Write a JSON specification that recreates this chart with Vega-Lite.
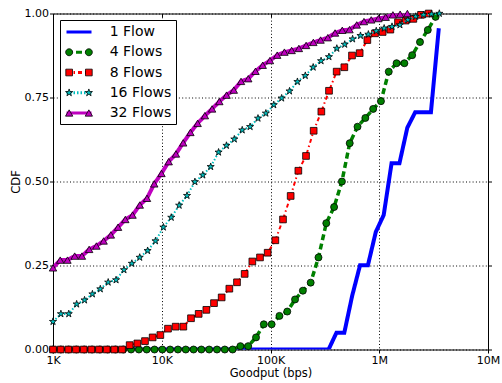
{
  "$schema": "https://vega.github.io/schema/vega-lite/v6.json",
  "width": 435,
  "height": 336,
  "autosize": "none",
  "padding": {"left": 53, "top": 13.5, "right": 14, "bottom": 33.5},
  "background": "white",
  "config": {
    "view": {"stroke": "black", "strokeWidth": 1},
    "font": "DejaVu Sans",
    "axis": {"domain": false, "labelFont": "DejaVu Sans", "titleFont": "DejaVu Sans", "labelColor": "black", "titleColor": "black", "tickColor": "black", "titleFontWeight": "normal"}
  },
  "data": {"values": [
    {"series":"1 Flow","x":1000,"y":0},{"series":"1 Flow","x":342000,"y":0},{"series":"1 Flow","x":404100,"y":0.05},{"series":"1 Flow","x":477200,"y":0.05},{"series":"1 Flow","x":563800,"y":0.16},{"series":"1 Flow","x":666200,"y":0.251},{"series":"1 Flow","x":787000,"y":0.251},{"series":"1 Flow","x":929900,"y":0.35},{"series":"1 Flow","x":1098500,"y":0.40},{"series":"1 Flow","x":1297800,"y":0.554},{"series":"1 Flow","x":1533000,"y":0.554},{"series":"1 Flow","x":1811300,"y":0.66},{"series":"1 Flow","x":2139800,"y":0.706},{"series":"1 Flow","x":2528100,"y":0.706},{"series":"1 Flow","x":2986600,"y":0.706},{"series":"1 Flow","x":3528600,"y":0.956},

    {"series":"4 Flows","x":1000,"y":0},{"series":"4 Flows","x":1180,"y":0},{"series":"4 Flows","x":1392,"y":0},{"series":"4 Flows","x":1642,"y":0},{"series":"4 Flows","x":1937,"y":0},{"series":"4 Flows","x":2286,"y":0},{"series":"4 Flows","x":2697,"y":0},{"series":"4 Flows","x":3181,"y":0},{"series":"4 Flows","x":3753,"y":0},{"series":"4 Flows","x":4428,"y":0},{"series":"4 Flows","x":5224,"y":0},{"series":"4 Flows","x":6163,"y":0},{"series":"4 Flows","x":7271,"y":0},{"series":"4 Flows","x":8579,"y":0},{"series":"4 Flows","x":10121,"y":0},{"series":"4 Flows","x":11940,"y":0},{"series":"4 Flows","x":14087,"y":0},{"series":"4 Flows","x":16620,"y":0},{"series":"4 Flows","x":19607,"y":0},{"series":"4 Flows","x":23132,"y":0},{"series":"4 Flows","x":27291,"y":0},{"series":"4 Flows","x":32197,"y":0},{"series":"4 Flows","x":37986,"y":0},{"series":"4 Flows","x":44815,"y":0},{"series":"4 Flows","x":52872,"y":0.010},{"series":"4 Flows","x":62377,"y":0.010},{"series":"4 Flows","x":73591,"y":0.036},{"series":"4 Flows","x":86821,"y":0.075},{"series":"4 Flows","x":102430,"y":0.075},{"series":"4 Flows","x":120845,"y":0.100},{"series":"4 Flows","x":142570,"y":0.113},{"series":"4 Flows","x":168201,"y":0.149},{"series":"4 Flows","x":198440,"y":0.175},{"series":"4 Flows","x":234116,"y":0.199},{"series":"4 Flows","x":276206,"y":0.274},{"series":"4 Flows","x":325862,"y":0.376},{"series":"4 Flows","x":384445,"y":0.424},{"series":"4 Flows","x":453560,"y":0.500},{"series":"4 Flows","x":535101,"y":0.614},{"series":"4 Flows","x":631300,"y":0.663},{"series":"4 Flows","x":744795,"y":0.689},{"series":"4 Flows","x":878696,"y":0.716},{"series":"4 Flows","x":1036670,"y":0.739},{"series":"4 Flows","x":1223040,"y":0.827},{"series":"4 Flows","x":1442930,"y":0.852},{"series":"4 Flows","x":1702340,"y":0.852},{"series":"4 Flows","x":2008390,"y":0.876},{"series":"4 Flows","x":2369460,"y":0.915},{"series":"4 Flows","x":2795440,"y":0.951},{"series":"4 Flows","x":3297990,"y":0.990},

    {"series":"8 Flows","x":1000,"y":0},{"series":"8 Flows","x":1176,"y":0},{"series":"8 Flows","x":1384,"y":0},{"series":"8 Flows","x":1627,"y":0},{"series":"8 Flows","x":1914,"y":0},{"series":"8 Flows","x":2252,"y":0},{"series":"8 Flows","x":2648,"y":0},{"series":"8 Flows","x":3115,"y":0},{"series":"8 Flows","x":3664,"y":0},{"series":"8 Flows","x":4310,"y":0},{"series":"8 Flows","x":5070,"y":0.013},{"series":"8 Flows","x":5963,"y":0.018},{"series":"8 Flows","x":7014,"y":0.025},{"series":"8 Flows","x":8251,"y":0.036},{"series":"8 Flows","x":9705,"y":0.043},{"series":"8 Flows","x":11415,"y":0.062},{"series":"8 Flows","x":13427,"y":0.068},{"series":"8 Flows","x":15794,"y":0.068},{"series":"8 Flows","x":18578,"y":0.093},{"series":"8 Flows","x":21852,"y":0.106},{"series":"8 Flows","x":25703,"y":0.118},{"series":"8 Flows","x":30234,"y":0.138},{"series":"8 Flows","x":35562,"y":0.155},{"series":"8 Flows","x":41830,"y":0.181},{"series":"8 Flows","x":49203,"y":0.200},{"series":"8 Flows","x":57875,"y":0.225},{"series":"8 Flows","x":68075,"y":0.262},{"series":"8 Flows","x":80074,"y":0.274},{"series":"8 Flows","x":94187,"y":0.288},{"series":"8 Flows","x":110787,"y":0.325},{"series":"8 Flows","x":130313,"y":0.387},{"series":"8 Flows","x":153281,"y":0.457},{"series":"8 Flows","x":180297,"y":0.532},{"series":"8 Flows","x":212074,"y":0.576},{"series":"8 Flows","x":249452,"y":0.651},{"series":"8 Flows","x":293418,"y":0.708},{"series":"8 Flows","x":345133,"y":0.770},{"series":"8 Flows","x":405963,"y":0.827},{"series":"8 Flows","x":477514,"y":0.840},{"series":"8 Flows","x":561676,"y":0.875},{"series":"8 Flows","x":660671,"y":0.882},{"series":"8 Flows","x":777114,"y":0.921},{"series":"8 Flows","x":914086,"y":0.941},{"series":"8 Flows","x":1075190,"y":0.945},{"series":"8 Flows","x":1264690,"y":0.952},{"series":"8 Flows","x":1487590,"y":0.974},{"series":"8 Flows","x":1749780,"y":0.979},{"series":"8 Flows","x":2058180,"y":0.984},{"series":"8 Flows","x":2420930,"y":0.996},{"series":"8 Flows","x":2847620,"y":1.0},

    {"series":"16 Flows","x":1000,"y":0.083},{"series":"16 Flows","x":1182,"y":0.106},{"series":"16 Flows","x":1396,"y":0.106},{"series":"16 Flows","x":1650,"y":0.135},{"series":"16 Flows","x":1950,"y":0.147},{"series":"16 Flows","x":2304,"y":0.165},{"series":"16 Flows","x":2723,"y":0.180},{"series":"16 Flows","x":3217,"y":0.200},{"series":"16 Flows","x":3802,"y":0.207},{"series":"16 Flows","x":4493,"y":0.237},{"series":"16 Flows","x":5309,"y":0.256},{"series":"16 Flows","x":6273,"y":0.274},{"series":"16 Flows","x":7413,"y":0.294},{"series":"16 Flows","x":8760,"y":0.323},{"series":"16 Flows","x":10351,"y":0.364},{"series":"16 Flows","x":12232,"y":0.393},{"series":"16 Flows","x":14454,"y":0.429},{"series":"16 Flows","x":17080,"y":0.458},{"series":"16 Flows","x":20184,"y":0.499},{"series":"16 Flows","x":23851,"y":0.519},{"series":"16 Flows","x":28184,"y":0.544},{"series":"16 Flows","x":33304,"y":0.587},{"series":"16 Flows","x":39355,"y":0.607},{"series":"16 Flows","x":46505,"y":0.626},{"series":"16 Flows","x":54954,"y":0.653},{"series":"16 Flows","x":64938,"y":0.663},{"series":"16 Flows","x":76736,"y":0.688},{"series":"16 Flows","x":90677,"y":0.703},{"series":"16 Flows","x":107151,"y":0.728},{"series":"16 Flows","x":126618,"y":0.748},{"series":"16 Flows","x":149622,"y":0.769},{"series":"16 Flows","x":176805,"y":0.797},{"series":"16 Flows","x":208927,"y":0.815},{"series":"16 Flows","x":246885,"y":0.840},{"series":"16 Flows","x":291739,"y":0.859},{"series":"16 Flows","x":344742,"y":0.871},{"series":"16 Flows","x":407375,"y":0.896},{"series":"16 Flows","x":481387,"y":0.908},{"series":"16 Flows","x":568845,"y":0.924},{"series":"16 Flows","x":672193,"y":0.934},{"series":"16 Flows","x":794318,"y":0.938},{"series":"16 Flows","x":938630,"y":0.948},{"series":"16 Flows","x":1109160,"y":0.956},{"series":"16 Flows","x":1310670,"y":0.961},{"series":"16 Flows","x":1548800,"y":0.966},{"series":"16 Flows","x":1830190,"y":0.981},{"series":"16 Flows","x":2162700,"y":0.991},{"series":"16 Flows","x":2555620,"y":0.996},{"series":"16 Flows","x":3019920,"y":0.998},{"series":"16 Flows","x":3568580,"y":1.0},

    {"series":"32 Flows","x":1000,"y":0.243},{"series":"32 Flows","x":1165,"y":0.266},{"series":"32 Flows","x":1358,"y":0.266},{"series":"32 Flows","x":1583,"y":0.278},{"series":"32 Flows","x":1845,"y":0.278},{"series":"32 Flows","x":2150,"y":0.298},{"series":"32 Flows","x":2506,"y":0.308},{"series":"32 Flows","x":2921,"y":0.323},{"series":"32 Flows","x":3404,"y":0.341},{"series":"32 Flows","x":3967,"y":0.364},{"series":"32 Flows","x":4624,"y":0.387},{"series":"32 Flows","x":5389,"y":0.400},{"series":"32 Flows","x":6281,"y":0.430},{"series":"32 Flows","x":7320,"y":0.450},{"series":"32 Flows","x":8531,"y":0.493},{"series":"32 Flows","x":9943,"y":0.524},{"series":"32 Flows","x":11588,"y":0.559},{"series":"32 Flows","x":13506,"y":0.582},{"series":"32 Flows","x":15741,"y":0.615},{"series":"32 Flows","x":18345,"y":0.646},{"series":"32 Flows","x":21381,"y":0.673},{"series":"32 Flows","x":24919,"y":0.696},{"series":"32 Flows","x":29042,"y":0.716},{"series":"32 Flows","x":33848,"y":0.738},{"series":"32 Flows","x":39449,"y":0.757},{"series":"32 Flows","x":45977,"y":0.772},{"series":"32 Flows","x":53585,"y":0.798},{"series":"32 Flows","x":62452,"y":0.806},{"series":"32 Flows","x":72786,"y":0.828},{"series":"32 Flows","x":84830,"y":0.846},{"series":"32 Flows","x":98867,"y":0.860},{"series":"32 Flows","x":115230,"y":0.876},{"series":"32 Flows","x":134290,"y":0.885},{"series":"32 Flows","x":156510,"y":0.890},{"series":"32 Flows","x":182410,"y":0.896},{"series":"32 Flows","x":212600,"y":0.905},{"series":"32 Flows","x":247780,"y":0.914},{"series":"32 Flows","x":288780,"y":0.921},{"series":"32 Flows","x":336560,"y":0.928},{"series":"32 Flows","x":392250,"y":0.942},{"series":"32 Flows","x":457160,"y":0.950},{"series":"32 Flows","x":532810,"y":0.952},{"series":"32 Flows","x":620970,"y":0.966},{"series":"32 Flows","x":723720,"y":0.976},{"series":"32 Flows","x":843480,"y":0.981},{"series":"32 Flows","x":983050,"y":0.985},{"series":"32 Flows","x":1145700,"y":0.989},{"series":"32 Flows","x":1335300,"y":0.996},{"series":"32 Flows","x":1556300,"y":0.998},{"series":"32 Flows","x":1813800,"y":1.0}
  ]},
  "layer": [
    {
      "transform": [{"filter": "datum.series === '1 Flow'"}],
      "mark": {"type": "line", "strokeWidth": 4, "clip": true},
      "encoding": {
        "x": {"field": "x", "type": "quantitative",
          "scale": {"type": "log", "domain": [1000, 10000000], "nice": false},
          "axis": {"orient": "bottom", "values": [1000, 10000, 100000, 1000000, 10000000],
            "labelExpr": "datum.value >= 9000000 ? '10M' : datum.value >= 900000 ? '1M' : datum.value >= 90000 ? '100K' : datum.value >= 9000 ? '10K' : '1K'",
            "labelFontSize": 11, "labelPadding": 1, "labelFlush": false, "labelOverlap": false,
            "tickSize": 3.5, "grid": true, "gridColor": "black", "gridDash": [1, 2.3], "gridWidth": 1,
            "title": "Goodput (bps)", "titleFontSize": 11.5, "titlePadding": 2}},
        "y": {"field": "y", "type": "quantitative",
          "scale": {"domain": [0, 1], "nice": false},
          "axis": {"orient": "left", "values": [0, 0.25, 0.5, 0.75, 1], "format": ".2f",
            "labelFontSize": 11, "labelPadding": 1, "tickSize": 3.5, "labelFlush": false, "labelOverlap": false,
            "grid": true, "gridColor": "black", "gridDash": [1, 2.3], "gridWidth": 1,
            "title": "CDF", "titleFontSize": 11.5, "titlePadding": 3}},
        "color": {"field": "series", "type": "nominal",
          "scale": {"domain": ["1 Flow", "4 Flows", "8 Flows", "16 Flows", "32 Flows"], "range": ["#0000ff", "#008000", "#ff0000", "#00bfbf", "#bf00bf"]},
          "legend": {"orient": "none", "legendX": 7, "legendY": 6.5, "title": null,
            "symbolType": "M-1.923,0L1.923,0", "symbolSize": 169, "symbolStrokeWidth": 3,
            "padding": 4, "rowPadding": 5.25, "symbolOffset": 7, "labelOffset": 22.7,
            "labelFont": "DejaVu Sans", "labelFontSize": 14, "labelColor": "black", "labelLimit": 300,
            "fillColor": "white", "strokeColor": "black"}},
        "strokeDash": {"field": "series", "type": "nominal",
          "scale": {"domain": ["1 Flow", "4 Flows", "8 Flows", "16 Flows", "32 Flows"], "range": [[1, 0], [6, 3.5], [4, 3, 1.5, 3], [1.5, 2], [1, 0]]},
          "legend": {"orient": "none", "legendX": 7, "legendY": 6.5, "title": null}}
      }
    },
    {
      "transform": [{"filter": "datum.series === '4 Flows'"}],
      "mark": {"type": "line", "strokeWidth": 3.5, "clip": true},
      "encoding": {
        "x": {"field": "x", "type": "quantitative", "axis": {"orient": "top", "values": [1000, 10000, 100000, 1000000, 10000000], "labels": false, "grid": false, "tickSize": -3.5, "title": null}},
        "y": {"field": "y", "type": "quantitative", "axis": {"orient": "right", "values": [0, 0.25, 0.5, 0.75, 1], "labels": false, "grid": false, "tickSize": 3.5, "title": null}},
        "color": {"field": "series", "type": "nominal"},
        "strokeDash": {"field": "series", "type": "nominal"}
      }
    },
    {
      "transform": [{"filter": "datum.series === '4 Flows'"}],
      "mark": {"type": "point", "shape": "circle", "size": 49, "filled": true, "fill": "#008000", "stroke": "black", "strokeWidth": 0.8, "opacity": 1},
      "encoding": {
        "x": {"field": "x", "type": "quantitative", "axis": null},
        "y": {"field": "y", "type": "quantitative", "axis": null}
      }
    },
    {
      "transform": [{"filter": "datum.series === '8 Flows'"}],
      "mark": {"type": "line", "strokeWidth": 2, "clip": true},
      "encoding": {
        "x": {"field": "x", "type": "quantitative", "axis": null},
        "y": {"field": "y", "type": "quantitative", "axis": null},
        "color": {"field": "series", "type": "nominal"},
        "strokeDash": {"field": "series", "type": "nominal"}
      }
    },
    {
      "transform": [{"filter": "datum.series === '8 Flows'"}],
      "mark": {"type": "point", "shape": "square", "size": 45, "filled": true, "fill": "#ff0000", "stroke": "black", "strokeWidth": 0.8, "opacity": 1},
      "encoding": {
        "x": {"field": "x", "type": "quantitative", "axis": null},
        "y": {"field": "y", "type": "quantitative", "axis": null}
      }
    },
    {
      "transform": [{"filter": "datum.series === '16 Flows'"}],
      "mark": {"type": "line", "strokeWidth": 2, "clip": true},
      "encoding": {
        "x": {"field": "x", "type": "quantitative", "axis": null},
        "y": {"field": "y", "type": "quantitative", "axis": null},
        "color": {"field": "series", "type": "nominal"},
        "strokeDash": {"field": "series", "type": "nominal"}
      }
    },
    {
      "transform": [{"filter": "datum.series === '16 Flows'"}],
      "mark": {"type": "point", "shape": "M0,-1L0.2245,-0.309L0.951,-0.309L0.3633,0.118L0.588,0.809L0,0.382L-0.588,0.809L-0.3633,0.118L-0.951,-0.309L-0.2245,-0.309Z", "size": 56, "filled": true, "fill": "#00bfbf", "stroke": "black", "strokeWidth": 0.8, "opacity": 1},
      "encoding": {
        "x": {"field": "x", "type": "quantitative", "axis": null},
        "y": {"field": "y", "type": "quantitative", "axis": null}
      }
    },
    {
      "transform": [{"filter": "datum.series === '32 Flows'"}],
      "mark": {"type": "line", "strokeWidth": 4, "clip": true},
      "encoding": {
        "x": {"field": "x", "type": "quantitative", "axis": null},
        "y": {"field": "y", "type": "quantitative", "axis": null},
        "color": {"field": "series", "type": "nominal"},
        "strokeDash": {"field": "series", "type": "nominal"}
      }
    },
    {
      "transform": [{"filter": "datum.series === '32 Flows'"}],
      "mark": {"type": "point", "shape": "triangle-up", "size": 55, "filled": true, "fill": "#bf00bf", "stroke": "black", "strokeWidth": 0.8, "opacity": 1},
      "encoding": {
        "x": {"field": "x", "type": "quantitative", "axis": null},
        "y": {"field": "y", "type": "quantitative", "axis": null}
      }
    },
    {
      "transform": [{"filter": "datum.series === 'none'"}],
      "mark": {"type": "point", "filled": true, "stroke": "black", "strokeWidth": 0.8, "opacity": 1},
      "encoding": {
        "fill": {"field": "series", "type": "nominal",
          "scale": {"domain": ["1 Flow", "4 Flows", "8 Flows", "16 Flows", "32 Flows", "_"], "range": ["rgba(0,0,0,0)", "#008000", "#ff0000", "#00bfbf", "#bf00bf", "white"]},
          "legend": {"orient": "none", "legendX": 7, "legendY": 6.5, "title": null,
            "values": ["1 Flow", "4 Flows", "8 Flows", "16 Flows", "32 Flows"],
            "symbolSize": 231, "symbolStrokeWidth": 0.8, "symbolStrokeColor": "black",
            "padding": 4, "rowPadding": 5.25, "symbolOffset": 7, "labelOffset": 22.7,
            "labelFont": "DejaVu Sans", "labelFontSize": 14, "labelOpacity": 0, "labelLimit": 300}},
        "shape": {"field": "series", "type": "nominal",
          "scale": {"domain": ["1 Flow", "4 Flows", "8 Flows", "16 Flows", "32 Flows", "_"],
            "range": [
              "M0,0",
              "M-0.836,0A0.46,0.46,0,1,1,-1.756,0A0.46,0.46,0,1,1,-0.836,0ZM1.756,0A0.46,0.46,0,1,1,0.836,0A0.46,0.46,0,1,1,1.756,0Z",
              "M-1.736,-0.44L-0.856,-0.44L-0.856,0.44L-1.736,0.44ZM0.856,-0.44L1.736,-0.44L1.736,0.44L0.856,0.44Z",
              "M-1.296,-0.5L-1.184,-0.155L-0.82,-0.155L-1.114,0.059L-1.002,0.405L-1.296,0.191L-1.59,0.405L-1.478,0.059L-1.772,-0.155L-1.408,-0.155ZM1.296,-0.5L1.408,-0.155L1.772,-0.155L1.478,0.059L1.59,0.405L1.296,0.191L1.002,0.405L1.114,0.059L0.82,-0.155L1.184,-0.155Z",
              "M-1.296,-0.415L-0.816,0.415L-1.776,0.415ZM1.296,-0.415L1.776,0.415L0.816,0.415Z",
              "circle"]},
          "legend": {"orient": "none", "legendX": 7, "legendY": 6.5, "title": null,
            "values": ["1 Flow", "4 Flows", "8 Flows", "16 Flows", "32 Flows"]}}
      }
    }
  ]
}
